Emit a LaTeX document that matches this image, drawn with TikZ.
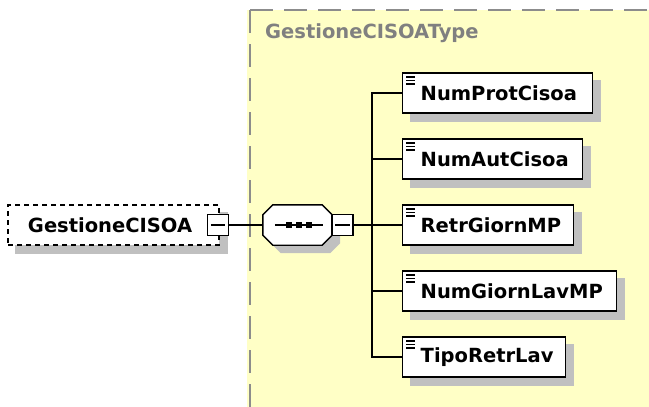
\documentclass[tikz,border=0pt]{standalone}
\usepackage{fontspec}
\setmainfont{DejaVu Sans}
\usetikzlibrary{backgrounds}
\definecolor{bgyellow}{RGB}{255,255,198}
\definecolor{framegray}{RGB}{140,140,140}
\definecolor{shadgray}{RGB}{192,192,192}
\definecolor{typegray}{RGB}{128,128,128}
\newcommand{\etxt}[3]{\makebox[#1pt][l]{\hspace*{#2pt}#3}}
\tikzset{
  lbl/.style={font=\bfseries\fontsize{19.5}{22}\selectfont},
  elem/.style={lbl, draw=black, fill=white, line width=1.4pt, anchor=west,
    minimum height=40pt, inner xsep=0pt, inner ysep=0pt},
  minusbox/.style={draw=black, fill=white, line width=1.4pt, minimum size=21pt, inner sep=0pt},
  conn/.style={draw=black, line width=1.5pt},
  shadowfill/.style={fill=shadgray, draw=none},
  iconline/.style={draw=black, line width=1.5pt}
}
\begin{document}
\begin{tikzpicture}[x=1pt,y=-1pt]
\useasboundingbox (0,0) rectangle (649,407);
\begin{scope}[on background layer]
  \fill[bgyellow] (247,10) rectangle (649,407);
  \draw[framegray, line width=2pt, dash pattern=on 23pt off 11pt] (250,10) -- (649,10);
  \draw[framegray, line width=2pt, dash pattern=on 23pt off 11pt] (250,10) -- (250,407);
\end{scope}

\node[lbl, text=typegray, anchor=west, inner sep=0pt] (typelbl) at (265,33) {GestioneCISOAType};

% root element
\node[lbl, draw=black, fill=white, line width=1.4pt, dash pattern=on 5pt off 4pt,
      minimum height=40pt, inner sep=0pt] (root) at (113.5,225) {\etxt{211}{20}{GestioneCISOA}};
\node[minusbox] (rootm) at (218,225) {};
\draw[line width=1.4pt] ([shift={(4,0)}]rootm.west) -- ([shift={(-4,0)}]rootm.east);

% sequence compositor
\node[minimum width=69pt, minimum height=40pt, inner sep=0pt] (seq) at (297.5,225) {};
\filldraw[fill=white, line width=1.4pt]
  ([shift={(10,0)}]seq.north west) -- ([shift={(-10,0)}]seq.north east)
  -- ([shift={(0,10)}]seq.north east) -- ([shift={(0,-10)}]seq.south east)
  -- ([shift={(-10,0)}]seq.south east) -- ([shift={(10,0)}]seq.south west)
  -- ([shift={(0,-10)}]seq.south west) -- ([shift={(0,10)}]seq.north west) -- cycle;
\draw[line width=1.4pt] ([shift={(12,0)}]seq.west) -- ([shift={(-9,0)}]seq.east);
\foreach \dx in {-8.5,1.5,11.5}
  \fill ([shift={(\dx-3,-3)}]seq.center) rectangle ([shift={(\dx+3,3)}]seq.center);
\node[minusbox] (seqm) at (342.5,225) {};
\draw[line width=1.4pt] ([shift={(4,0)}]seqm.west) -- ([shift={(-4,0)}]seqm.east);

% children
\node[elem] (c1) at (402,93)  {\etxt{190}{18}{NumProtCisoa}};
\node[elem] (c2) at (402,159) {\etxt{180}{18}{NumAutCisoa}};
\node[elem] (c3) at (402,225) {\etxt{171}{18}{RetrGiornMP}};
\node[elem] (c4) at (402,291) {\etxt{214}{18}{NumGiornLavMP}};
\node[elem] (c5) at (402,357) {\etxt{163}{18}{TipoRetrLav}};
\foreach \n in {c1,c2,c3,c4,c5}
  \foreach \dy in {4.5,8,11.5}
    \draw[iconline] ([shift={(4,\dy)}]\n.north west) -- ([shift={(13,\dy)}]\n.north west);

% shadows
\begin{scope}[on background layer]
  \fill[shadowfill] ([shift={(8,8)}]root.north west) rectangle ([shift={(8,8)}]root.south east);
  \foreach \n in {c1,c2,c3,c4,c5}
    \fill[shadowfill] ([shift={(8,8)}]\n.north west) rectangle ([shift={(8,8)}]\n.south east);
  \fill[shadowfill]
    ([shift={(18,8)}]seq.north west) -- ([shift={(-2,8)}]seq.north east)
    -- ([shift={(8,18)}]seq.north east) -- ([shift={(8,-2)}]seq.south east)
    -- ([shift={(-2,8)}]seq.south east) -- ([shift={(18,8)}]seq.south west)
    -- ([shift={(8,-2)}]seq.south west) -- ([shift={(8,18)}]seq.north west) -- cycle;
\end{scope}

% connectors
\coordinate (trunk) at (372,225);
\draw[conn] (rootm.east) -- (seq.west);
\draw[conn] (seqm.east) -- (trunk);
\foreach \n in {c1,c2,c3,c4,c5}
  \draw[conn] (trunk) |- (\n.west);
\end{tikzpicture}
\end{document}
